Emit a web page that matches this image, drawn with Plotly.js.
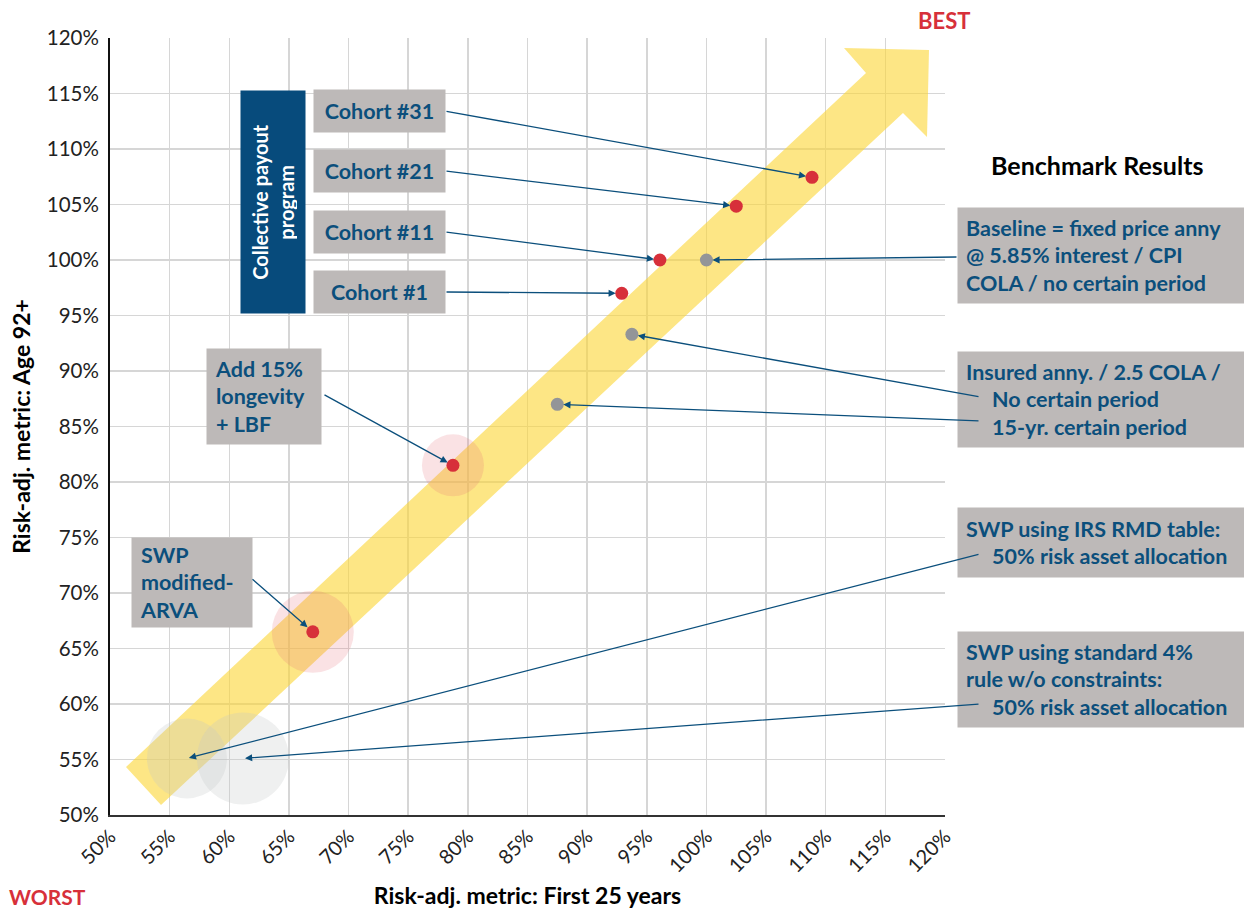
<!DOCTYPE html>
<html>
<head>
<meta charset="utf-8">
<script src="https://cdn.plot.ly/plotly-3.0.1.min.js"></script>
<style>html,body{margin:0;padding:0;background:#fff;}#chart{width:1244px;height:909px;}</style>
</head>
<body>
<div id="chart"></div>
<script>
// ---------- data (percent) ----------
const cohortNames = ['Cohort #1', 'Cohort #11', 'Cohort #21', 'Cohort #31'];
const cohortX = [92.9, 96.1, 102.5, 108.85];
const cohortY = [97.0, 100.0, 104.85, 107.45];

const annuityNames = ['Baseline fixed price anny', 'Insured anny. no certain period', 'Insured anny. 15-yr certain period'];
const annuityX = [100.0, 93.75, 87.5];
const annuityY = [100.0, 93.3, 87.0];

const swpRedNames = ['Add 15% longevity + LBF', 'SWP modified-ARVA'];
const swpRedX = [78.75, 67.0];
const swpRedY = [81.5, 66.5];

const swpGrayNames = ['SWP IRS RMD table', 'SWP standard 4% rule'];
const swpGrayX = [56.45, 61.15];
const swpGrayY = [55.1, 55.1];

const tickVals = [50, 55, 60, 65, 70, 75, 80, 85, 90, 95, 100, 105, 110, 115, 120];
const tickText = tickVals.map(v => v + '%');

// ---------- geometry helpers (layout only) ----------
const W = 1244, H = 909;
const M = {l: 110, r: 299, t: 38, b: 94};
const PW = W - M.l - M.r, PH = H - M.t - M.b;
const XR = [50, 120], YR = [50, 120];
const px = x => (x - M.l) / PW;                 // pixel -> paper
const py = y => (H - M.b - y) / PH;
const dx = x => XR[0] + (x - M.l) / PW * (XR[1] - XR[0]);   // pixel -> data
const dy = y => YR[1] - (y - M.t) / PH * (YR[1] - YR[0]);

const FONT = 'Lato, "Source Sans Pro", "Noto Sans", sans-serif';
const BLUE = '#0b4f7c';
const BOXBG = '#bdb9b8';
const RED = '#d7303a';
const GRAY = '#939598';

// ---------- traces ----------
const traces = [
  { // pink halos
    type: 'scatter', mode: 'markers', x: swpRedX, y: swpRedY, hoverinfo: 'skip',
    marker: {size: [62, 82], color: 'rgba(232,105,115,0.28)', line: {width: 0}}
  },
  { // gray halos
    type: 'scatter', mode: 'markers', x: swpGrayX, y: swpGrayY, hoverinfo: 'skip',
    marker: {size: [80, 92], color: 'rgba(195,200,200,0.38)', line: {width: 0}}
  },
  {
    type: 'scatter', mode: 'markers', name: 'SWP', x: swpRedX, y: swpRedY, text: swpRedNames,
    marker: {size: 13, color: RED}
  },
  {
    type: 'scatter', mode: 'markers', name: 'Cohorts', x: cohortX, y: cohortY, text: cohortNames,
    marker: {size: 13, color: RED}
  },
  {
    type: 'scatter', mode: 'markers', name: 'Annuities', x: annuityX, y: annuityY, text: annuityNames,
    marker: {size: 13, color: GRAY}
  }
];

// ---------- yellow arrow (decorative) ----------
const arrowPts = [[126,767],[866,73],[844,48],[929,50],[927,137],[903,113],[161,805]];
const arrowPath = 'M' + arrowPts.map(p => dx(p[0]) + ',' + dy(p[1])).join(' L') + ' Z';

const shapes = [{
  type: 'path', xref: 'x', yref: 'y', path: arrowPath, layer: 'between',
  fillcolor: 'rgb(252,214,52)', opacity: 0.6, line: {width: 0}
}];

// ---------- annotations ----------
const ann = [];
function box(text, cx, cy, w, h, opts, size) {
  const pad = 8;
  ann.push(Object.assign({
    xref: 'paper', yref: 'paper', x: px(cx), y: py(cy), xanchor: 'center', yanchor: 'middle',
    text: text, showarrow: false, bgcolor: BOXBG, borderpad: pad,
    width: w - 2 * pad, height: h - 2 * pad, align: 'center',
    font: {family: FONT, size: size || 21, color: BLUE, weight: 'bold'}
  }, opts || {}));
}
function arrow(hx, hy, tailPx, tailPy, standoff) {
  ann.push({
    xref: 'x', yref: 'y', axref: 'x', ayref: 'y', x: hx, y: hy, ax: dx(tailPx), ay: dy(tailPy),
    text: '', showarrow: true, arrowhead: 2, arrowsize: 1.1, arrowwidth: 1.3,
    arrowcolor: BLUE, standoff: standoff
  });
}
const sp = n => '\u00a0'.repeat(n);

// Collective payout program
ann.push({
  xref: 'paper', yref: 'paper', x: px(273), y: py(202), xanchor: 'center', yanchor: 'middle',
  text: 'Collective payout<br>program', textangle: -90, showarrow: false,
  bgcolor: '#074b7c', borderpad: 8, width: 206, height: 48,
  font: {family: FONT, size: 20, color: '#ffffff', weight: 'bold'}
});
// cohort boxes
const cohortBoxY = [292, 232, 171, 111];
for (let i = 0; i < 4; i++) {
  box(cohortNames[i], 379.5, cohortBoxY[i], 131, 42, null, 21.5);
  arrow(cohortX[i], cohortY[i], 445, cohortBoxY[i], 6);
}
// right-hand boxes
box('Baseline = fixed price anny<br>@ 5.85% interest / CPI<br>COLA / no certain period', 1101, 255.5, 286, 95, {align: 'left'}, 21.5);
arrow(annuityX[0], annuityY[0], 958, 257, 6);
box('Insured anny. / 2.5 COLA /<br>' + sp(5) + 'No certain period<br>' + sp(5) + '15-yr. certain period', 1101, 399, 286, 95, {align: 'left'}, 21.5);
arrow(annuityX[1], annuityY[1], 980, 397, 6);
arrow(annuityX[2], annuityY[2], 980, 421, 6);
box('SWP using IRS RMD table:<br>' + sp(5) + '50% risk asset allocation', 1101, 542.5, 286, 69, {align: 'left'}, 21.5);
arrow(swpGrayX[0], swpGrayY[0], 980, 554, 2);
box('SWP using standard 4%<br>rule w/o constraints:<br>' + sp(5) + '50% risk asset allocation', 1101, 679.5, 286, 95, {align: 'left'}, 21.5);
arrow(swpGrayX[1], swpGrayY[1], 980, 704, 2);
// left boxes
box('Add 15%<br>longevity<br>+ LBF', 264, 396.5, 114, 95, {align: 'left'}, 21.5);
arrow(swpRedX[0], swpRedY[0], 323, 394, 6);
box('SWP<br>modified-<br>ARVA', 192, 582.5, 120, 89, {align: 'left'}, 21.5);
arrow(swpRedX[1], swpRedY[1], 251, 578, 7);

// free texts
ann.push({xref: 'paper', yref: 'paper', x: px(1097), y: py(165), xanchor: 'center', yanchor: 'middle', showarrow: false,
  text: 'Benchmark Results', font: {family: FONT, size: 25, color: '#000', weight: 'bold'}});
ann.push({xref: 'paper', yref: 'paper', x: px(944), y: py(20), xanchor: 'center', yanchor: 'middle', showarrow: false,
  text: 'BEST', font: {family: FONT, size: 22, color: RED, weight: 'bold'}});
ann.push({xref: 'paper', yref: 'paper', x: px(47), y: py(896), xanchor: 'center', yanchor: 'middle', showarrow: false,
  text: 'WORST', font: {family: FONT, size: 21, color: RED, weight: 'bold'}});

const layout = {
  width: W, height: H, margin: M, showlegend: false,
  paper_bgcolor: '#fff', plot_bgcolor: '#fff',
  font: {family: FONT, color: '#222'},
  xaxis: {
    range: XR, tickvals: tickVals, ticktext: tickText, tickangle: -45,
    showgrid: true, gridcolor: '#d6d6d6', gridwidth: 1.5, zeroline: false,
    showline: true, linecolor: '#333', linewidth: 2, ticks: '',
    tickfont: {family: FONT, size: 20, color: '#222'}, automargin: false,
    title: {text: 'Risk-adj. metric: First 25 years', standoff: 16,
      font: {family: FONT, size: 23, color: '#000', weight: 'bold'}}
  },
  yaxis: {
    range: YR, tickvals: tickVals, ticktext: tickText,
    showgrid: true, gridcolor: '#d6d6d6', gridwidth: 1.5, zeroline: false,
    showline: true, linecolor: '#111', linewidth: 2, ticks: '', ticklabelstandoff: 5,
    tickfont: {family: FONT, size: 20.5, color: '#222'}, automargin: false,
    title: {text: 'Risk-adj. metric: Age 92+', standoff: 10,
      font: {family: FONT, size: 23, color: '#000', weight: 'bold'}}
  },
  shapes: shapes,
  annotations: ann
};

Plotly.newPlot('chart', traces, layout, {displayModeBar: false, staticPlot: true});
</script>
</body>
</html>
